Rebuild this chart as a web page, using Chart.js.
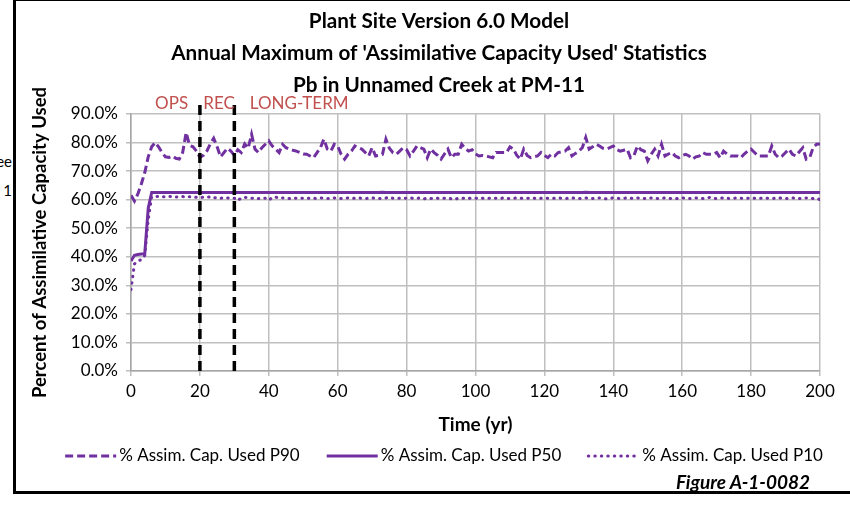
<!DOCTYPE html>
<html>
<head>
<meta charset="utf-8">
<script src="https://cdn.jsdelivr.net/npm/chart.js@4.4.1/dist/chart.umd.min.js"></script>
<style>
  html, body { margin: 0; padding: 0; background: #fff; width: 850px; height: 508px; overflow: hidden; position: relative; font-family: Lato, sans-serif; }
  #wrap { position: absolute; left: 14px; top: 0; width: 850px; height: 508px; }
  #frame { position: absolute; left: 13px; top: -2px; width: 900px; height: 490px; border: 3px solid #000; pointer-events: none; }
  .cut { position: absolute; left: -60px; width: 72px; text-align: right; font: 15px Lato, sans-serif; color: #000; }
  #fig { position: absolute; right: 40px; top: 470px; font: italic bold 19px Lato, sans-serif; color: #000; }
</style>
</head>
<body>
<div class="cut" style="top:152px">ee</div>
<div class="cut" style="top:181px">1</div>
<div id="wrap"><canvas id="chart" width="850" height="508"></canvas></div>
<div id="frame"></div>
<div id="fig">Figure A-1-0082</div>
<script>
const titleLines = ['Plant Site Version 6.0 Model', "Annual Maximum of 'Assimilative Capacity Used' Statistics", 'Pb in Unnamed Creek at PM-11'];
const seriesNames = ['% Assim. Cap. Used P90', '% Assim. Cap. Used P50', '% Assim. Cap. Used P10'];
const phaseNames = ['OPS', 'REC', 'LONG-TERM'];
const phaseLabelAt = [7, 21, 34.5];
const phaseBounds = [20, 30];
const years = Array.from({length: 201}, (_, i) => i);

const p90 = [
  61.5, 59.5, 62, 65.5, 69.5, 75, 78.5, 80, 78.5, 76.5,
  75, 74.8, 75.3, 74.5, 74.2, 76.5, 83.5, 79, 78.5, 77,
  74.8, 75.5, 77, 79.5, 81.5, 78.5, 75, 76.5, 78, 77,
  75.5, 77.5, 76.5, 79.5, 78, 82.9, 77.7, 76.5, 78.2, 79.4,
  80.6, 78.8, 77.7, 76.5, 79.4, 78.2, 77.7, 77.3, 77, 76.5,
  76, 75.9, 75.3, 74.7, 76.5, 78.2, 81.2, 77.7, 77, 79.4,
  78.8, 75.9, 74.2, 75.9, 77, 78.8, 78.2, 77.7, 76.5, 75.3,
  78.2, 75.3, 75.5, 75.9, 81.2, 78, 76.5, 75.9, 77, 78.2,
  77.5, 75.3, 77, 78.8, 78.2, 77.7, 74.7, 77.7, 76.5, 75.5,
  74.2, 76, 77.7, 74.7, 75.9, 75.9, 79.4, 78, 77, 77.5,
  76, 75.3, 75.5, 75.3, 75, 74.7, 76.5, 76.5, 76.5, 76.5,
  78.5, 77.7, 75.5, 74.2, 77.7, 75.5, 74.7, 75, 75.3, 76.5,
  75.5, 74.7, 75.9, 75.3, 76.5, 76.8, 77, 78.2, 75.3, 76.2,
  77, 78.2, 81.8, 77.7, 78.5, 79.4, 78.8, 78, 77.7, 78.2,
  78.8, 77.5, 77, 77.3, 77.7, 74.7, 75.5, 78.8, 77.5, 77,
  73.6, 75.9, 77.7, 75.3, 79.4, 75.3, 76, 76.5, 75.3, 74.7,
  75.5, 75.9, 75.3, 74.2, 75, 75.3, 76.5, 75.9, 75.9, 75.9,
  76.5, 74.7, 77, 76, 75.3, 75.3, 75.3, 74.7, 76, 77,
  77.7, 76.5, 75.3, 75.3, 75.3, 75.3, 78.8, 75.9, 74.7, 75.3,
  76.5, 77.7, 75.9, 75.3, 76.8, 78.2, 74.2, 74.7, 78.2, 79.4,
  79.5
];

const p50 = [
  38.5, 40.5, 40.8, 41, 41.2, 57, 62.5, 62.5, 62.5, 62.5,
  62.5, 62.5, 62.5, 62.5, 62.5, 62.5, 62.5, 62.5, 62.5, 62.5,
  62.5, 62.5, 62.5, 62.5, 62.5, 62.5, 62.5, 62.5, 62.5, 62.5,
  62.5, 62.5, 62.5, 62.5, 62.5, 62.5, 62.5, 62.5, 62.5, 62.5,
  62.5, 62.5, 62.5, 62.5, 62.5, 62.5, 62.5, 62.5, 62.5, 62.5,
  62.5, 62.5, 62.5, 62.5, 62.5, 62.5, 62.5, 62.5, 62.5, 62.5,
  62.5, 62.5, 62.5, 62.5, 62.5, 62.5, 62.5, 62.5, 62.5, 62.5,
  62.5, 62.5, 62.5, 62.6, 62.5, 62.5, 62.5, 62.5, 62.5, 62.5,
  62.5, 62.5, 62.5, 62.5, 62.5, 62.5, 62.5, 62.5, 62.5, 62.5,
  62.5, 62.5, 62.5, 62.5, 62.5, 62.5, 62.5, 62.5, 62.5, 62.5,
  62.5, 62.5, 62.5, 62.5, 62.5, 62.5, 62.5, 62.5, 62.5, 62.5,
  62.5, 62.5, 62.5, 62.5, 62.5, 62.5, 62.5, 62.5, 62.5, 62.5,
  62.5, 62.5, 62.5, 62.5, 62.5, 62.5, 62.5, 62.5, 62.5, 62.5,
  62.5, 62.5, 62.6, 62.5, 62.5, 62.5, 62.5, 62.5, 62.5, 62.5,
  62.5, 62.5, 62.5, 62.5, 62.5, 62.5, 62.5, 62.5, 62.5, 62.5,
  62.5, 62.5, 62.5, 62.5, 62.5, 62.5, 62.5, 62.5, 62.5, 62.5,
  62.5, 62.5, 62.5, 62.5, 62.5, 62.5, 62.5, 62.5, 62.5, 62.5,
  62.5, 62.5, 62.5, 62.5, 62.5, 62.5, 62.5, 62.5, 62.5, 62.5,
  62.5, 62.5, 62.5, 62.5, 62.5, 62.5, 62.5, 62.5, 62.5, 62.5,
  62.5, 62.5, 62.5, 62.5, 62.5, 62.5, 62.5, 62.5, 62.5, 62.5,
  62.5
];

const p10 = [
  28.5, 37.5, 38.5, 39, 40.5, 53, 61, 61, 61.2, 61,
  61, 61.2, 61, 60.9, 61, 61.1, 60.9, 61, 61, 60.8,
  60.6, 60.9, 60.8, 61, 60.6, 60.8, 60.5, 60.7, 60.6, 60.7,
  60.5, 59.7, 60.6, 60.8, 60.7, 60.5, 60.6, 60.4, 60.6, 60.5,
  59.8, 60.8, 60.9, 60.5, 60.6, 60.5, 60.4, 60.6, 60.5, 60.6,
  60.5, 60.4, 60.6, 60.5, 60.4, 60.6, 60.5, 60.4, 60.5, 60.6,
  60.5, 60.4, 60.5, 60.6, 60.4, 60.5, 60.6, 60.5, 60.4, 60.5,
  60.6, 60.5, 60.4, 60.5, 60.6, 60.8, 60.5, 60.4, 60.5, 60.6,
  60.5, 60.7, 60.4, 60.5, 60.6, 60.3, 60.5, 60.4, 60.6, 60.5,
  60.4, 60.5, 60.6, 60.3, 60.1, 60.5, 60.4, 60.6, 60.5, 60.4,
  60.5, 60.6, 60.5, 60.4, 60.5, 60.6, 60.5, 60.4, 60.6, 60.5,
  60.4, 60.5, 60.6, 60.5, 60.4, 60.5, 60.6, 60.5, 60.4, 60.5,
  60.6, 60.5, 60.4, 60.5, 60.6, 60.5, 60.4, 60.5, 60.6, 60.5,
  60.4, 60.5, 60.6, 60.5, 60.4, 60.5, 60.6, 60.5, 60.3, 60.5,
  60.6, 60.5, 60.4, 60.5, 60.6, 60.5, 60.4, 60.6, 60.5, 60.4,
  60.5, 60.6, 60.5, 60.4, 60.5, 60.6, 60.5, 60.4, 60.3, 60.5,
  60.6, 60.5, 60.4, 60.5, 60.6, 60.5, 60.4, 60.5, 60.8, 60.5,
  60.4, 60.5, 60.6, 60.5, 60.4, 60.5, 60.6, 60.5, 60.4, 60.5,
  60.6, 60.5, 60.4, 60.5, 60.6, 60.5, 60.4, 60.5, 60.6, 60.5,
  60.4, 60.5, 60.6, 60.5, 60.4, 60.5, 60.6, 60.5, 60.4, 60.5,
  60.0
];

const purple = '#7030a0';
const pts = arr => arr.map((v, i) => ({x: years[i], y: v}));

// phase names written just above the plot area
const phaseText = {
  id: 'phaseText',
  afterDatasetsDraw(chart) {
    const {ctx, chartArea, scales: {x}} = chart;
    ctx.save();
    ctx.font = '17px Lato';
    ctx.fillStyle = '#c0504d';
    ctx.textBaseline = 'middle';
    phaseNames.forEach((t, i) => ctx.fillText(t, x.getPixelForValue(phaseLabelAt[i]), chartArea.top - 10));
    ctx.restore();
  }
};

// legend row drawn with each dataset's own line style (Excel-like samples)
const lineLegend = {
  id: 'lineLegend',
  afterDraw(chart) {
    const {ctx} = chart;
    const items = chart.data.datasets.filter(d => d.label);
    const sample = 51, gap = 3, spacing = 27, cy = 456, cx = 430;
    ctx.save();
    ctx.font = '17px Lato';
    ctx.textBaseline = 'middle';
    const widths = items.map(d => sample + gap + ctx.measureText(d.label).width);
    let x = cx - (widths.reduce((a, b) => a + b, 0) + spacing * (items.length - 1)) / 2;
    items.forEach((d, i) => {
      ctx.beginPath();
      ctx.strokeStyle = d.borderColor;
      ctx.lineWidth = d.borderWidth;
      ctx.lineCap = d.borderCapStyle || 'butt';
      ctx.setLineDash(d.borderDash || []);
      ctx.moveTo(x, cy);
      ctx.lineTo(x + sample, cy);
      ctx.stroke();
      ctx.setLineDash([]);
      ctx.fillStyle = '#000';
      ctx.fillText(d.label, x + sample + gap, cy);
      x += widths[i] + spacing;
    });
    ctx.restore();
  }
};

Chart.defaults.font.family = 'Lato';
Chart.defaults.color = '#000';

new Chart(document.getElementById('chart'), {
  type: 'line',
  data: {
    datasets: [
      ...phaseBounds.map(b => ({
        label: '', data: [{x: b, y: 0}, {x: b, y: 94}],
        borderColor: '#000', borderWidth: 3.5, borderDash: [10, 6],
        pointRadius: 0, clip: false, order: 0
      })),
      { label: seriesNames[0], data: pts(p90), borderColor: purple,
        borderWidth: 3, borderDash: [8, 4], pointRadius: 0, order: 1 },
      { label: seriesNames[1], data: pts(p50), borderColor: purple,
        borderWidth: 3, pointRadius: 0, order: 2 },
      { label: seriesNames[2], data: pts(p10), borderColor: purple,
        borderWidth: 3, borderDash: [0.5, 6], borderCapStyle: 'round', pointRadius: 0, order: 3 }
    ]
  },
  options: {
    responsive: false,
    animation: false,
    layout: { padding: { top: 0, left: 44, right: 44, bottom: 87 } },
    plugins: {
      title: {
        display: true, text: titleLines, color: '#000',
        font: { size: 20.7, weight: 'bold', lineHeight: '32px' },
        padding: { top: 5, bottom: 13 }
      },
      legend: { display: false },
      tooltip: { enabled: false }
    },
    scales: {
      x: {
        type: 'linear', min: 0, max: 200,
        afterFit: s => { s.height = 50; },
        ticks: { stepSize: 20, padding: 5, font: { size: 17 }, color: '#000' },
        grid: { color: '#bfbfbf', lineWidth: 1.5, tickLength: 5 },
        border: { color: '#a6a6a6', width: 1.5 },
        title: { display: true, text: 'Time (yr)', color: '#000',
          font: { size: 19, weight: 'bold' }, padding: { top: 0, bottom: -15 } }
      },
      y: {
        min: 0, max: 90,
        afterFit: s => { s.width = 73; },
        ticks: { stepSize: 10, padding: 8, font: { size: 17 }, color: '#000',
          callback: v => v.toFixed(1) + '%' },
        grid: { color: '#bfbfbf', lineWidth: 1.5, tickLength: 5 },
        border: { color: '#a6a6a6', width: 1.5 },
        title: { display: true, text: 'Percent of Assimilative Capacity Used', color: '#000',
          font: { size: 18.5, weight: 'bold' }, padding: { top: -29, bottom: 0 } }
      }
    }
  },
  plugins: [phaseText, lineLegend]
});
</script>
</body>
</html>
